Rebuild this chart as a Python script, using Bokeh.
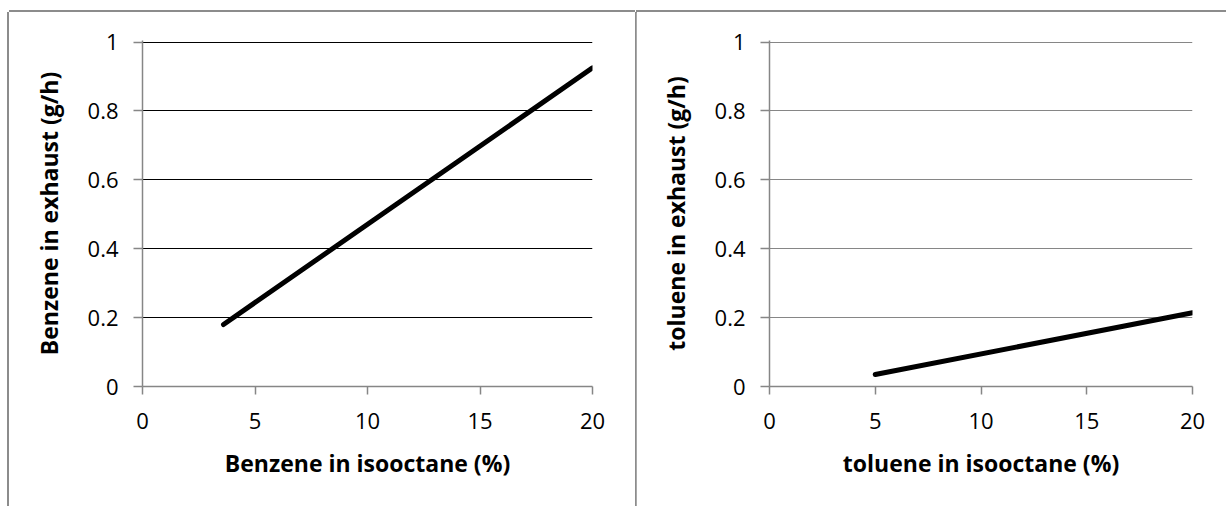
from bokeh.plotting import figure
from bokeh.layouts import row, column
from bokeh.models import Range1d, FixedTicker, NumeralTickFormatter, Spacer
from bokeh.embed import file_html
from bokeh.resources import INLINE

# ---- data ----
benzene_pct = [3.6, 20]
benzene_exhaust = [0.18, 0.925]
toluene_pct = [5, 20]
toluene_exhaust = [0.035, 0.214]
x_ticks = [0, 5, 10, 15, 20]
y_ticks = [0, 0.2, 0.4, 0.6, 0.8, 1.0]

FONT = "Open Sans"
AXIS_GRAY = "#868686"
Y_TOP = 1 + 1.5 / 344


def make_panel(x, y, xlabel, ylabel, grid_color, width, right_border, shadow):
    p = figure(width=width, height=494, output_backend="svg", toolbar_location=None,
               x_range=Range1d(0, 20), y_range=Range1d(0, Y_TOP),
               min_border_left=133, min_border_right=right_border,
               min_border_top=28, min_border_bottom=120,
               background_fill_color="white", border_fill_color="white",
               styles={"box-shadow": shadow})
    p.outline_line_color = None
    p.line(x, y, line_color="black", line_width=5, line_cap="round")

    p.xgrid.grid_line_color = None
    p.ygrid.grid_line_color = grid_color
    p.ygrid.grid_line_width = 1.2
    p.ygrid.ticker = FixedTicker(ticks=y_ticks[1:])

    xa = p.xaxis[0]
    xa.ticker = FixedTicker(ticks=x_ticks)
    xa.axis_label = xlabel
    xa.axis_line_color = AXIS_GRAY
    xa.axis_line_width = 1.5
    xa.major_tick_line_color = AXIS_GRAY
    xa.major_tick_line_width = 1.5
    xa.major_tick_out = 8
    xa.major_tick_in = 0
    xa.minor_tick_line_color = None
    xa.major_label_text_font = FONT
    xa.major_label_text_font_size = "22px"
    xa.major_label_text_color = "black"
    xa.major_label_standoff = 18
    xa.axis_label_text_font = FONT
    xa.axis_label_text_font_size = "23px"
    xa.axis_label_text_font_style = "bold"
    xa.axis_label_text_color = "black"
    xa.axis_label_standoff = 15

    ya = p.yaxis[0]
    ya.ticker = FixedTicker(ticks=y_ticks)
    ya.formatter = NumeralTickFormatter(format="0.[0]")
    ya.axis_label = ylabel
    ya.axis_line_color = AXIS_GRAY
    ya.axis_line_width = 1.5
    ya.major_tick_line_color = AXIS_GRAY
    ya.major_tick_line_width = 1.5
    ya.major_tick_out = 9
    ya.major_tick_in = 0
    ya.minor_tick_line_color = None
    ya.major_label_text_font = FONT
    ya.major_label_text_font_size = "22px"
    ya.major_label_text_color = "black"
    ya.major_label_standoff = 15
    ya.axis_label_text_font = FONT
    ya.axis_label_text_font_size = "23px"
    ya.axis_label_text_font_style = "bold"
    ya.axis_label_text_color = "black"
    ya.axis_label_standoff = 20
    return p


p1 = make_panel(benzene_pct, benzene_exhaust, "Benzene in isooctane (%)",
                "Benzene in exhaust (g/h)", "black", 626, 43,
                "-2px 0 0 0 #8c8c8c, 0 -2px 0 0 #8c8c8c, 2px 0 0 0 #8c8c8c")
p2 = make_panel(toluene_pct, toluene_exhaust, "toluene in isooctane (%)",
                "toluene in exhaust (g/h)", AXIS_GRAY, 590, 34,
                "0 -2px 0 0 #8c8c8c")

layout = column(Spacer(height=12), row(Spacer(width=9), p1, Spacer(width=1), p2, spacing=0), spacing=0)

open("out.html", "w").write(file_html(layout, INLINE))
